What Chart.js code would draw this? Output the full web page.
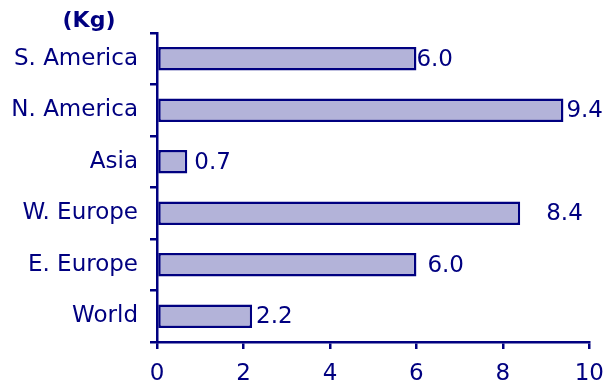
<!DOCTYPE html>
<html>
<head>
<meta charset="utf-8">
<script src="https://cdn.jsdelivr.net/npm/chart.js@4"></script>
<style>
  html, body { margin: 0; padding: 0; background: #fff; }
  #wrap { width: 615px; height: 385px; }
</style>
</head>
<body>
<div id="wrap"><canvas id="kgChart"></canvas></div>
<script>
const regions = ['S. America', 'N. America', 'Asia', 'W. Europe', 'E. Europe', 'World'];
const kgValues = [6.0, 9.4, 0.7, 8.4, 6.0, 2.2];
const xTicks = [0, 2, 4, 6, 8, 10];
const unitLabel = '(Kg)';

const navy = '#000080';
const fillColor = '#b3b3d9';
const font = 'DejaVu Sans, Verdana, sans-serif';
const fontSize = 23;
// gap between bar end and its value label, per bar
const labelGap = [0, 3, 7, 26, 11, 4];

const valueLabels = {
    id: 'valueLabels',
    afterDatasetsDraw(chart) {
        const ctx = chart.ctx;
        const meta = chart.getDatasetMeta(0);
        ctx.save();
        ctx.fillStyle = navy;
        ctx.font = fontSize + 'px ' + font;
        ctx.textAlign = 'left';
        ctx.textBaseline = 'middle';
        meta.data.forEach((bar, i) => {
            ctx.fillText(kgValues[i].toFixed(1), bar.x + labelGap[i], bar.y + 1);
        });
        // unit label above the axis
        ctx.font = 'bold 22px ' + font;
        ctx.textAlign = 'center';
        ctx.fillText(unitLabel, 89, 21);
        ctx.restore();
    }
};

new Chart(document.getElementById('kgChart').getContext('2d'), {
    type: 'bar',
    data: {
        labels: regions,
        datasets: [{
            data: kgValues,
            backgroundColor: fillColor,
            borderColor: navy,
            borderWidth: 2.5,
            borderSkipped: false,
            barPercentage: 0.46,
            categoryPercentage: 1
        }]
    },
    options: {
        indexAxis: 'y',
        responsive: true,
        maintainAspectRatio: false,
        animation: false,
        layout: { padding: { top: 33, right: 18, left: 0, bottom: 0 } },
        plugins: {
            legend: { display: false },
            tooltip: { enabled: false }
        },
        scales: {
            x: {
                min: 0,
                max: 10,
                afterBuildTicks: scale => { scale.ticks = xTicks.map(v => ({ value: v })); },
                afterFit: scale => { scale.height = 43; },
                border: { color: navy, width: 2.5 },
                grid: { drawOnChartArea: false, color: navy, lineWidth: 2.5, tickLength: 7 },
                ticks: { color: navy, font: { family: font, size: fontSize }, padding: 11 }
            },
            y: {
                afterFit: scale => { scale.width = 157; },
                border: { color: navy, width: 2.5 },
                grid: { drawOnChartArea: false, offset: true, color: navy, lineWidth: 2.5, tickLength: 7 },
                ticks: { color: navy, font: { family: font, size: fontSize }, padding: 12 }
            }
        }
    },
    plugins: [valueLabels]
});
</script>
</body>
</html>
